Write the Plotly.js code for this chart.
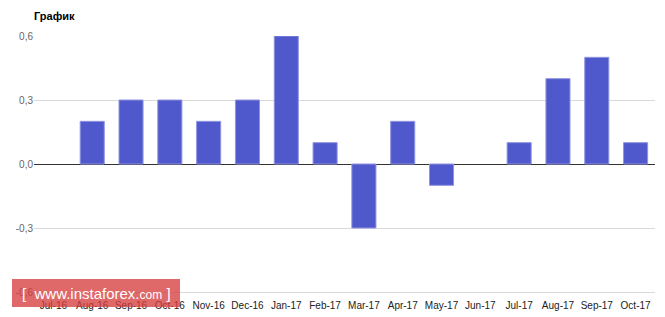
<!DOCTYPE html>
<html>
<head>
<meta charset="utf-8">
<script src="https://cdn.plot.ly/plotly-3.0.1.min.js"></script>
<style>html,body{margin:0;padding:0;background:#fff;}#chart{width:665px;height:317px;}</style>
</head>
<body>
<div id="chart"></div>
<script>
const categories = ["Jul-16","Aug-16","Sep-16","Oct-16","Nov-16","Dec-16","Jan-17","Feb-17","Mar-17","Apr-17","May-17","Jun-17","Jul-17","Aug-17","Sep-17","Oct-17"];
const values = [0, 0.2, 0.3, 0.3, 0.2, 0.3, 0.6, 0.1, -0.3, 0.2, -0.1, 0, 0.1, 0.4, 0.5, 0.1];
const tickVals = [-0.6, -0.3, 0, 0.3, 0.6];
const tickText = ["-0,6", "-0,3", "0,0", "0,3", "0,6"];

const trace = {
  type: "bar",
  x: categories,
  y: values,
  marker: {color: "#5059cb", line: {color: "#8e94e2", width: values.map(v => v === 0 ? 0 : 1)}},
  hoverinfo: "x+y"
};

const layout = {
  width: 665, height: 317,
  margin: {l: 34, r: 10, t: 36, b: 25},
  paper_bgcolor: "#fff", plot_bgcolor: "#fff",
  bargap: 0.38,
  showlegend: false,
  font: {family: "Arial, 'Liberation Sans', sans-serif", size: 11, color: "#444"},
  title: {text: "<b>График</b>", x: 0, xref: "paper", xanchor: "left", y: 1, yref: "container", yanchor: "top", pad: {t: 12}, font: {size: 11, color: "#000"}},
  xaxis: {
    type: "category",
    showgrid: false, zeroline: false,
    showline: true, linecolor: "#d9d9d9", linewidth: 1,
    ticks: "", tickfont: {size: 10, color: "#222"},
    tickangle: 0, ticklabelstandoff: 4
  },
  yaxis: {
    range: [-0.6, 0.6],
    tickvals: tickVals, ticktext: tickText,
    showgrid: true, gridcolor: "#d9d9d9", gridwidth: 1,
    zeroline: true, zerolinecolor: "#333", zerolinewidth: 1,
    ticks: "", ticklen: 0, tickfont: {size: 10, color: "#666"},
    automargin: false
  },
  shapes: [
    {type: "rect", xref: "paper", yref: "paper", x0: -22/621, x1: 146/621, y0: (317-25-307)/256, y1: (317-25-279)/256, fillcolor: "rgba(214,62,62,0.78)", line: {width: 0}, layer: "above"}
  ],
  annotations: [
    {xref: "paper", yref: "paper", x: 62/621, y: (317-25-293)/256, xanchor: "center", yanchor: "middle", showarrow: false,
     text: "[  www.instaforex.<span style='font-size:12px'>com</span> ]", font: {family: "Arial, 'Liberation Sans', sans-serif", size: 15, color: "#fff"}}
  ]
};

Plotly.newPlot("chart", [trace], layout, {displayModeBar: false, staticPlot: true});
</script>
</body>
</html>
